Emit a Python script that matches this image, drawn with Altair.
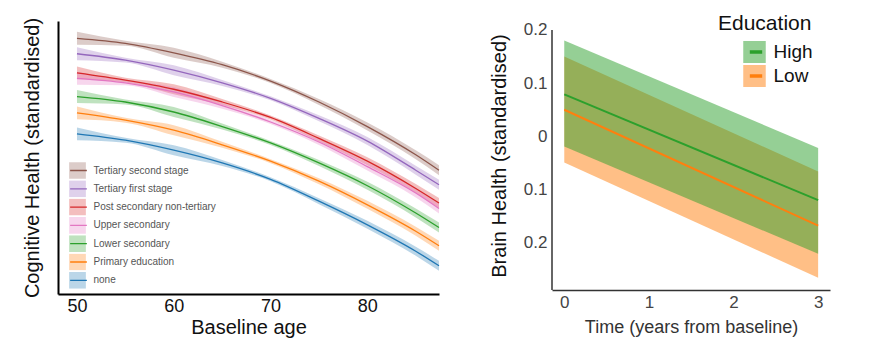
import altair as alt
import pandas as pd

FONT = "Liberation Sans"

# ---------------- Left panel data ----------------
ages = [50, 55, 60, 65, 70, 75, 80, 85, 87.4]
edu_levels = ["Tertiary second stage", "Tertiary first stage", "Post secondary non-tertiary",
              "Upper secondary", "Lower secondary", "Primary education", "none"]
edu_colors = ["#8c564b", "#9467bd", "#d62728", "#e377c2", "#2ca02c", "#ff7f0e", "#1f77b4"]
cog_tertiary2 = [0.81, 0.755, 0.65, 0.52, 0.34, 0.11, -0.16, -0.47, -0.64]
cog_tertiary1 = [0.64, 0.57, 0.46, 0.32, 0.15, -0.07, -0.32, -0.64, -0.80]
cog_postsec = [0.43, 0.35, 0.25, 0.11, -0.06, -0.29, -0.54, -0.84, -1.00]
cog_upper = [0.37, 0.32, 0.22, 0.07, -0.11, -0.33, -0.60, -0.89, -1.06]
cog_lower = [0.17, 0.11, 0.00, -0.16, -0.34, -0.56, -0.81, -1.11, -1.27]
cog_primary = [-0.01, -0.09, -0.20, -0.36, -0.54, -0.76, -1.02, -1.31, -1.47]
cog_none = [-0.24, -0.31, -0.42, -0.56, -0.74, -0.98, -1.24, -1.53, -1.69]
cog_halfwidth = [0.071, 0.027, 0.055, 0.033, 0.022, 0.033, 0.044, 0.049, 0.055]
cog_series = [cog_tertiary2, cog_tertiary1, cog_postsec, cog_upper, cog_lower, cog_primary, cog_none]

rows = []
for lvl, vals in zip(edu_levels, cog_series):
    for a, v, h in zip(ages, vals, cog_halfwidth):
        rows.append({"age": a, "edu": lvl, "edu_line": lvl, "val": v, "lo": v - h, "hi": v + h})
left_df = pd.DataFrame(rows)

# ---------------- Right panel data ----------------
time_years = [0, 3]
groups = ["High", "Low"]
group_colors = ["#2ca02c", "#ff7f0e"]
brain_high = [0.079, -0.120]
brain_high_lo = [-0.019, -0.221]
brain_high_hi = [0.180, -0.022]
brain_low = [0.050, -0.168]
brain_low_lo = [-0.049, -0.266]
brain_low_hi = [0.150, -0.066]
brain_axis_top = [0.2]
brain_axis_bottom = [-0.289]

rrows = []
for g, m, lo, hi in [("High", brain_high, brain_high_lo, brain_high_hi),
                     ("Low", brain_low, brain_low_lo, brain_low_hi)]:
    for t, a, b, c in zip(time_years, m, lo, hi):
        rrows.append({"t": t, "grp": g, "grp_line": g, "val": a, "lo": b, "hi": c})
right_df = pd.DataFrame(rrows)
axis_df = pd.DataFrame({"top": brain_axis_top, "bottom": brain_axis_bottom})

# ---------------- Left chart ----------------
lx = alt.X("age:Q", scale=alt.Scale(domain=[48.04, 87.4], nice=False, zero=False),
           axis=alt.Axis(values=[50, 60, 70, 80], title="Baseline age", grid=False, ticks=False,
                         labelFontSize=18, labelColor="#111", labelPadding=3, titleFontSize=20,
                         titleFontWeight="normal", titleColor="#111", titlePadding=2,
                         domainColor="#000", domainWidth=2, labelFont=FONT, titleFont=FONT))
ly_axis = alt.Axis(title="Cognitive Health (standardised)", labels=False, ticks=False, grid=False,
                   titleFontSize=20, titleFontWeight="normal", titleColor="#111", titlePadding=16,
                   domainColor="#000", domainWidth=2, titleFont=FONT)
lscale = alt.Scale(domain=[-2, 1], nice=False, zero=False)

left_leg = dict(orient="none", legendX=11, legendY=141, title=None, symbolSize=280,
                clipHeight=17, rowPadding=1.3, labelFontSize=10, labelFont=FONT, labelOffset=7.5)

left_area = alt.Chart(left_df).mark_area(opacity=0.3, interpolate="monotone").encode(
    x=lx,
    y=alt.Y("lo:Q", scale=lscale, axis=ly_axis),
    y2="hi:Q",
    fill=alt.Fill("edu:N", scale=alt.Scale(domain=edu_levels, range=edu_colors),
                  legend=alt.Legend(symbolType="square", symbolOpacity=0.3, symbolStrokeWidth=0,
                                    labelColor="#555", **left_leg)),
)
left_line = alt.Chart(left_df).mark_line(strokeWidth=1.3, interpolate="monotone").encode(
    x=lx,
    y=alt.Y("val:Q", scale=lscale),
    stroke=alt.Stroke("edu_line:N", sort=edu_levels, scale=alt.Scale(range=edu_colors),
                      legend=alt.Legend(symbolType="stroke", symbolStrokeWidth=1.3,
                                        labelExpr="''", **left_leg)),
)
left = alt.layer(left_area, left_line).properties(width=381, height=273)

# ---------------- Right chart ----------------
rx = alt.X("t:Q", scale=alt.Scale(domain=[-0.145, 3.14], nice=False, zero=False),
           axis=alt.Axis(values=[0, 1, 2, 3], title="Time (years from baseline)", grid=False,
                         ticks=False, labelFontSize=17, labelColor="#444", labelPadding=4,
                         titleFontSize=18, titleFontWeight="normal", titleColor="#333",
                         titlePadding=8, domainColor="#333", domainWidth=1.5,
                         labelFont=FONT, titleFont=FONT))
ry_axis = alt.Axis(values=[-0.2, -0.1, 0, 0.1, 0.2], title="Brain Health (standardised)",
                   labelExpr="datum.value == 0 ? '0' : format(abs(datum.value), '.1f')",
                   grid=False, ticks=False, domain=False, labelFontSize=17, labelColor="#444",
                   labelPadding=5, titleFontSize=20, titleFontWeight="normal", titleColor="#111",
                   titlePadding=14, labelFont=FONT, titleFont=FONT)
rscale = alt.Scale(domain=[-0.289, 0.2169], nice=False, zero=False)

right_leg = dict(orient="none", legendX=166, clipHeight=22, rowPadding=2, labelFontSize=19,
                 labelFont=FONT, labelOffset=7.5, symbolOffset=25, symbolSize=506)
fill_enc = alt.Fill("grp:N", scale=alt.Scale(domain=groups, range=group_colors),
                    legend=alt.Legend(symbolType="square", symbolOpacity=0.5, symbolStrokeWidth=0,
                                      labelColor="#111", title="Education", legendY=-8,
                                      titleFontSize=21, titleFontWeight="normal",
                                      titleColor="#111", titleFont=FONT, titlePadding=7,
                                      **right_leg))

right_area_low = alt.Chart(right_df).transform_filter("datum.grp == 'Low'").mark_area(
    opacity=0.5).encode(x=rx, y=alt.Y("lo:Q", scale=rscale, axis=ry_axis), y2="hi:Q", fill=fill_enc)
right_area_high = alt.Chart(right_df).transform_filter("datum.grp == 'High'").mark_area(
    opacity=0.5).encode(x=rx, y=alt.Y("lo:Q", scale=rscale), y2="hi:Q", fill=fill_enc)
right_line = alt.Chart(right_df).mark_line(strokeWidth=2).encode(
    x=rx,
    y=alt.Y("val:Q", scale=rscale),
    stroke=alt.Stroke("grp_line:N", sort=groups, scale=alt.Scale(range=group_colors),
                      legend=alt.Legend(symbolType="M-0.55,0H0.55", symbolStrokeWidth=3.5,
                                        labelExpr="''", title=None, legendY=20, **right_leg)),
)
right_yaxis_line = alt.Chart(axis_df).mark_rule(color="#333", strokeWidth=1.5).encode(
    x=alt.value(0),
    y=alt.Y("top:Q", scale=rscale),
    y2="bottom:Q",
)
right = alt.layer(right_area_low, right_area_high, right_line, right_yaxis_line).properties(
    width=278, height=269,
)

chart = alt.hconcat(left, right, spacing=47).resolve_scale(
    fill="independent", stroke="independent"
).resolve_legend(fill="independent", stroke="independent").properties(
    padding={"left": 21, "top": 13, "right": 50, "bottom": 2},
    background="white",
).configure_view(stroke=None)

chart.save("out.html", embed_options={"renderer": "svg", "actions": False})
